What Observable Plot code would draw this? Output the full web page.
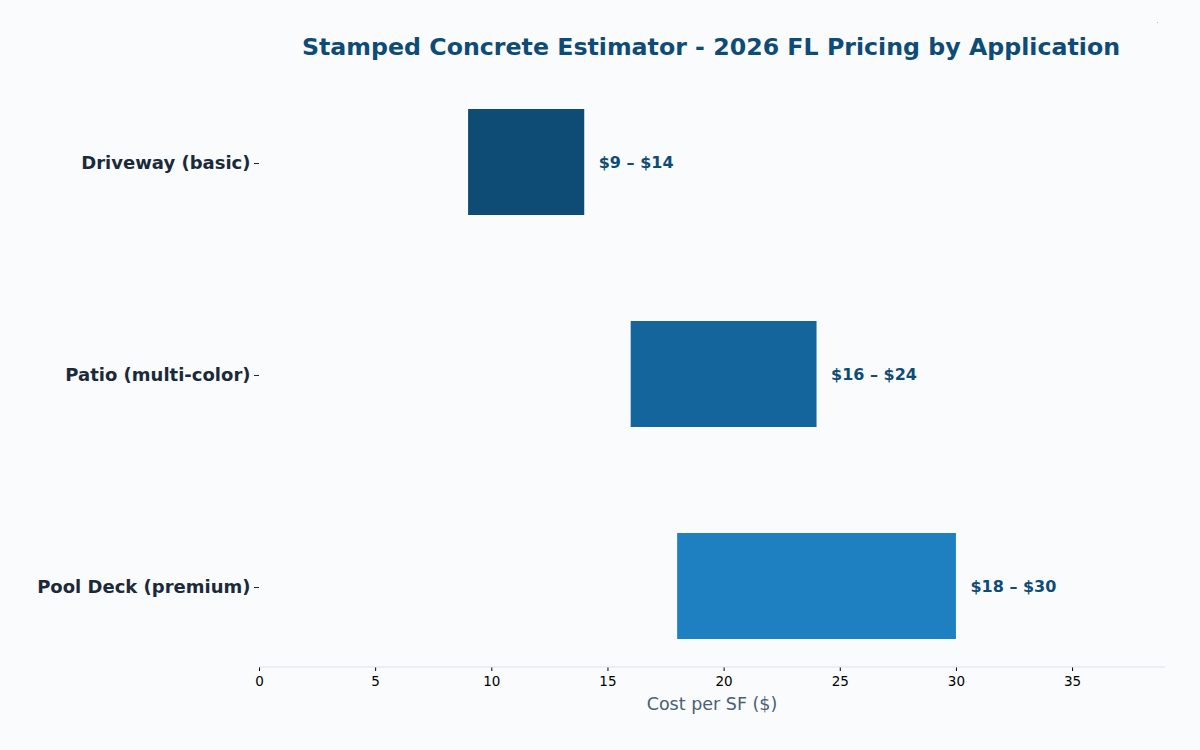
<!DOCTYPE html>
<html>
<head>
<meta charset="utf-8">
<script src="https://cdn.jsdelivr.net/npm/d3@7"></script>
<script src="https://cdn.jsdelivr.net/npm/@observablehq/plot@0.6"></script>
<style>
  html, body { margin: 0; padding: 0; background: #f9fbfd; }
  #wrap { width: 1200px; height: 750px; position: relative; font-family: "DejaVu Sans", sans-serif; }
  #title { height: 70px; box-sizing: border-box; padding-top: 33px; padding-left: 259px; width: 1163px; text-align: center;
    font-size: 23.7px; font-weight: bold; color: #0f4c75; line-height: 28px; }
  #dot { position: absolute; left: 1157px; top: 22px; width: 1px; height: 1px; background: #b0b8c0; }
</style>
</head>
<body>
<div id="wrap">
  <div id="title">Stamped Concrete Estimator - 2026 FL Pricing by Application</div>
  <div id="dot"></div>
  <div id="chart"></div>
</div>
<script>
const categories = ["Driveway (basic)", "Patio (multi-color)", "Pool Deck (premium)"];
const lowValues = [9, 16, 18];
const highValues = [14, 24, 30];
const labels = ["$9 – $14", "$16 – $24", "$18 – $30"];
const colors = ["#0f4c75", "#15659d", "#1e7fc1"];
const xTicks = [0, 5, 10, 15, 20, 25, 30, 35];

const data = categories.map((c, i) => ({cat: c, lo: lowValues[i], hi: highValues[i], label: labels[i], color: colors[i]}));

const chart = Plot.plot({
  width: 1200,
  height: 680,
  marginLeft: 259,
  marginRight: 35,
  marginTop: 11,
  marginBottom: 83,
  style: {background: "transparent", fontFamily: "DejaVu Sans, sans-serif"},
  x: {domain: [0, 39], ticks: xTicks, label: null},
  y: {domain: categories, paddingInner: 0.5, paddingOuter: 0.13, label: null},
  marks: [
    Plot.barX(data, {y: "cat", x1: "lo", x2: "hi", fill: "color"}),
    Plot.text(data, {y: "cat", x: "hi", text: "label", dx: 14, textAnchor: "start", fill: "#0f4c75", fontWeight: "bold", fontSize: 16}),
    Plot.axisX({ticks: xTicks, tickSize: 4, text: null, label: null, color: "#000"}),
    Plot.text(xTicks, {x: d => d, text: d => String(d), frameAnchor: "bottom", dy: 18, fontSize: 13.5, fill: "#000"}),
    Plot.axisY({tickSize: 5, tickPadding: 4, fontSize: 18, fontWeight: "bold", color: "#1b2a38", label: null, dy: 1})
  ]
});
document.getElementById("chart").appendChild(chart);

const svg = d3.select(chart);
const xs = chart.scale("x");
const yBottom = 680 - 83;
svg.append("line").attr("x1", xs.apply(0)).attr("x2", xs.apply(39)).attr("y1", yBottom).attr("y2", yBottom)
  .attr("stroke", "#dde3ea").attr("stroke-width", 1);
svg.append("text").attr("x", (xs.apply(0) + xs.apply(39)) / 2).attr("y", yBottom + 43)
  .attr("text-anchor", "middle").attr("fill", "#4a6076").attr("font-size", 17.5)
  .attr("font-family", "DejaVu Sans, sans-serif").text("Cost per SF ($)");
</script>
</body>
</html>
